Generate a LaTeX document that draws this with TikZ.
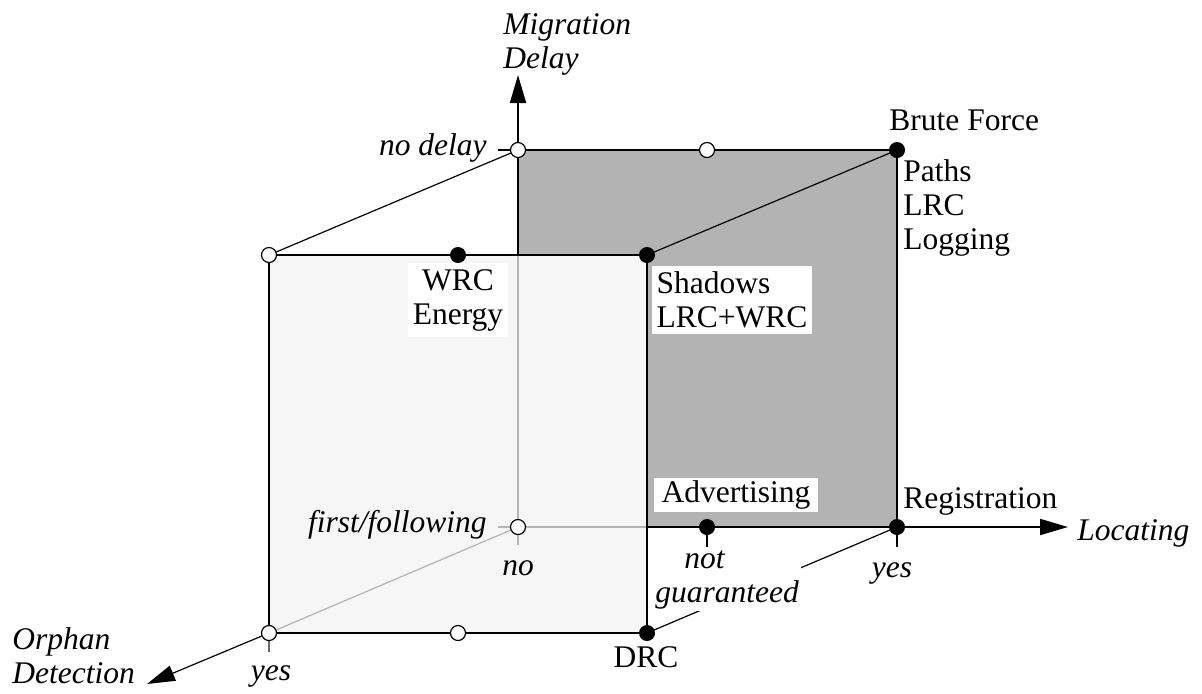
\documentclass[tikz,border=0pt]{standalone}
\usepackage{fontspec}
\setmainfont{Liberation Serif}
\usetikzlibrary{arrows.meta, positioning}
\definecolor{backgray}{RGB}{179,179,179}
\definecolor{frontgray}{RGB}{246,246,246}
\definecolor{hiddengray}{RGB}{179,179,179}

\begin{document}
\begin{tikzpicture}[x=0.5pt, y=-0.5pt, font=\fontsize{15.75}{17}\selectfont]
    \tikzstyle{opendot} = [circle, draw=black, fill=white, line width=0.6pt,
                           inner sep=0pt, minimum size=7.5pt]
    \tikzstyle{fulldot} = [circle, fill=black, inner sep=0pt, minimum size=8pt]
    \tikzstyle{rim}     = [line width=1pt]
    \tikzstyle{slant}   = [line width=0.6pt]
    \tikzstyle{hidden}  = [line width=1pt, color=hiddengray]
    \tikzstyle{axis}    = [-{Triangle[length=14pt, width=8pt]}]
    \tikzstyle{lbl}     = [inner sep=0pt]
    \tikzstyle{val}     = [inner sep=0pt, font=\fontsize{15.75}{17}\selectfont\itshape]
    \tikzstyle{tag}     = [fill=white, inner xsep=2.5pt, inner ysep=3pt, align=left]

    \useasboundingbox (0,0) rectangle (1202,693);

    % back face, front face
    \coordinate (bo)  at (518,527);
    \coordinate (btl) at (518,150);
    \coordinate (btm) at (707,150);
    \coordinate (btr) at (897,150);
    \coordinate (bbm) at (707,527);
    \coordinate (bbr) at (897,527);
    \coordinate (ftl) at (269,255);
    \coordinate (ftm) at (458,255);
    \coordinate (ftr) at (647,255);
    \coordinate (fbl) at (269,633);
    \coordinate (fbm) at (458,633);
    \coordinate (fbr) at (647,633);
    \coordinate (bx)  at (647,527);
    \coordinate (by)  at (518,255);
    % axis tips
    \coordinate (mtip) at (518,75);
    \coordinate (ltip) at (1068,527);
    \coordinate (otip) at (147,684);

    \fill[backgray]  (btl) rectangle (bbr);
    \fill[frontgray] (ftl) rectangle (fbr);

    \draw[hidden] (by) -- (bo) -- (bx);
    \draw[hidden, line width=0.6pt] (bo) -- (fbl);

    \draw[rim] (ftl) rectangle (fbr);
    \draw[rim] (btl) -- (btr) -- (bbr);
    \draw[rim, axis] (by) -- (mtip);
    \draw[rim, axis] (bx) -- (ltip);
    \draw[slant, axis] (fbl) -- (otip);
    \draw[slant] (ftl) -- (btl);
    \draw[slant] (ftr) -- (btr);
    \draw[slant] (fbr) -- (bbr);

    % ticks
    \draw[slant] (btl) -- ++(-20,0);
    \draw[hidden] (bo) -- ++(-20,0) (bo) -- ++(0,18);
    \draw[rim, black!60] (fbl) -- ++(0,19);
    \draw[rim] (bbm) -- ++(0,20);
    \draw[rim] (bbr) -- ++(0,20);

    % labels
    \node[val, anchor=base west, align=left] (miglbl) at (503,68) {Migration\\Delay};
    \node[val, anchor=base east] (nodelaylbl) at (487,155) {no delay};
    \node[lbl, anchor=base west] (brutelbl) at (889,130) {Brute Force};
    \node[lbl, anchor=base west, align=left] (pathslbl) at (903,249) {Paths\\LRC\\Logging};
    \node[tag, align=center] (wrclbl) at (458,300) {WRC\\Energy};
    \node[tag] (shadowlbl) at (732,300) {Shadows\\LRC+WRC};
    \node[tag, inner xsep=4pt, inner ysep=1.5pt] (advlbl) at (736,495) {Advertising};
    \node[lbl, anchor=base west] (reglbl) at (903,508) {Registration};
    \node[val, anchor=base west] (loclbl) at (1077,540) {Locating};
    \node[val, anchor=base east] (firstlbl) at (487,532) {first/following};
    \node[val, anchor=base] (nolbl) at (518,575) {no};
    \node[val, anchor=base west, align=left, fill=white, inner sep=1pt] (notglbl)
        at (653,602) {\hspace*{14.5pt}not\\guaranteed};
    \node[val, anchor=base] (yesrlbl) at (892,577) {yes};
    \node[lbl, anchor=base] (drclbl) at (646,667) {DRC};
    \node[val, anchor=base] (yesllbl) at (271,680) {yes};
    \node[val, anchor=base west, align=left] (orphlbl) at (12,683) {Orphan\\Detection};

    % dots
    \node[opendot] (nodelay)  at (btl) {};
    \node[opendot] (topmid)   at (btm) {};
    \node[fulldot] (brute)    at (btr) {};
    \node[opendot] (frontcnr) at (ftl) {};
    \node[fulldot] (wrc)      at (ftm) {};
    \node[fulldot] (shadows)  at (ftr) {};
    \node[opendot] (first)    at (bo)  {};
    \node[fulldot] (advert)   at (bbm) {};
    \node[fulldot] (regist)   at (bbr) {};
    \node[opendot] (orphan)   at (fbl) {};
    \node[opendot] (botmid)   at (fbm) {};
    \node[fulldot] (drc)      at (fbr) {};
\end{tikzpicture}
\end{document}
